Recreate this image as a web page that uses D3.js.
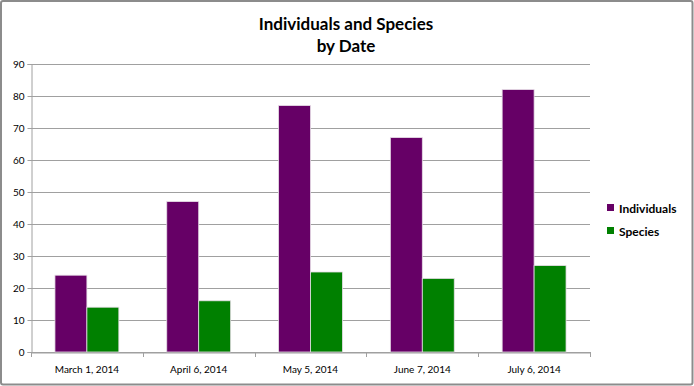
<!DOCTYPE html>
<html>
<head>
<meta charset="utf-8">
<script src="https://cdn.jsdelivr.net/npm/d3@7"></script>
<style>
  html, body { margin: 0; padding: 0; background: #fff; }
  svg { display: block; }
  text { font-family: Lato, "Open Sans", sans-serif; }
</style>
</head>
<body>
<div id="chart"></div>
<script>

// chart data
var dates = [ 'March 1, 2014', 'April 6, 2014', 'May 5, 2014', 'June 7, 2014', 'July 6, 2014' ];
var individuals = [ 24, 47, 77, 67, 82 ];
var species = [ 14, 16, 25, 23, 27 ];
var seriesNames = [ 'Individuals', 'Species' ];
var yTicks = [ 0, 10, 20, 30, 40, 50, 60, 70, 80, 90 ];

var width = 694,
    height = 386;

var colors = [ '#660066', '#008000' ];

var svg = d3.select('#chart').append('svg')
    .attr('width', width)
    .attr('height', height);

// outer frame
svg.append('rect')
    .attr('x', 1)
    .attr('y', 1)
    .attr('width', width - 2.5)
    .attr('height', height - 2.5)
    .attr('rx', 2)
    .style('fill', '#fff')
    .style('stroke', '#8c8c8c')
    .style('stroke-width', 2);

// title
var title = svg.append('text')
    .attr('text-anchor', 'middle')
    .style('font-size', '17px')
    .style('font-weight', 'bold')
    .style('fill', '#000');

title.append('tspan').attr('x', 346).attr('y', 30).text('Individuals and Species');
title.append('tspan').attr('x', 346).attr('y', 52).text('by Date');

var plot = { left: 31, right: 590, top: 64, bottom: 352 };

var x = d3.scaleBand()
    .domain( dates )
    .range([ plot.left, plot.right ])
    .paddingInner( 0 )
    .paddingOuter( 0 );

var y = d3.scaleLinear()
    .domain([ 0, 90 ])
    .range([ plot.bottom, plot.top ]);

// two bars side by side, centred in each category
var inner = d3.scaleBand()
    .domain( seriesNames )
    .range([ 0, x.bandwidth() ])
    .paddingOuter( 0.75 )
    .paddingInner( 0 );

// gridlines
svg.append('g')
    .selectAll('line')
    .data( yTicks )
    .enter().append('line')
    .attr('x1', plot.left)
    .attr('x2', plot.right)
    .attr('y1', function (d) { return Math.round( y(d) ) + 0.5; })
    .attr('y2', function (d) { return Math.round( y(d) ) + 0.5; })
    .style('stroke', '#a0a0a0')
    .style('stroke-width', 1);

// y axis
var yAxis = svg.append('g')
    .attr('transform', 'translate(' + ( plot.left + 0.5 ) + ',0)')
    .call( d3.axisLeft( y ).tickValues( yTicks ).tickSize( 4 ).tickPadding( 3 ) );

yAxis.select('.domain').style('stroke', '#a0a0a0');
yAxis.selectAll('line').style('stroke', '#a0a0a0');
yAxis.selectAll('text')
    .style('font-size', '10px')
    .style('fill', '#000');

// bars
var rows = dates.map( function (d, i) {
    return { date: d, values: [ individuals[i], species[i] ] };
});

var groups = svg.append('g')
    .selectAll('g')
    .data( rows )
    .enter().append('g')
    .attr('transform', function (d) { return 'translate(' + x( d.date ) + ',0)'; });

groups.selectAll('rect')
    .data( function (d) {
        return d.values.map( function (v, j) { return { name: seriesNames[j], value: v, i: j }; });
    })
    .enter().append('rect')
    .attr('x', function (d) { return inner( d.name ); })
    .attr('width', inner.bandwidth())
    .attr('y', function (d) { return y( d.value ); })
    .attr('height', function (d) { return y(0) - y( d.value ); })
    .style('fill', function (d) { return colors[ d.i ]; })
    .style('stroke', '#e6dce6')
    .style('stroke-width', 0.8);

// x axis
var xAxis = svg.append('g')
    .attr('transform', 'translate(0,' + ( Math.round( y(0) ) + 0.5 ) + ')')
    .call( d3.axisBottom( x ).tickSize( 0 ).tickPadding( 13 ) );

xAxis.select('.domain').style('stroke', '#a0a0a0');
xAxis.selectAll('text')
    .style('font-size', '10px')
    .style('fill', '#000');

// tick marks between categories
svg.append('g')
    .selectAll('line')
    .data( d3.range( dates.length + 1 ) )
    .enter().append('line')
    .attr('x1', function (i) { return Math.round( plot.left + i * x.step() ) + 0.5; })
    .attr('x2', function (i) { return Math.round( plot.left + i * x.step() ) + 0.5; })
    .attr('y1', Math.round( y(0) ))
    .attr('y2', Math.round( y(0) ) + 5)
    .style('stroke', '#a0a0a0');

// legend
var legend = svg.append('g')
    .selectAll('g')
    .data( seriesNames )
    .enter().append('g')
    .attr('transform', function (d, i) { return 'translate(607,' + ( 204 + i * 23 ) + ')'; });

legend.append('rect')
    .attr('width', 7)
    .attr('height', 7)
    .style('fill', function (d, i) { return colors[i]; });

legend.append('text')
    .attr('x', 12)
    .attr('y', 9)
    .style('font-size', '12px')
    .style('font-weight', 'bold')
    .style('fill', '#000')
    .text( function (d) { return d; });

</script>
</body>
</html>
